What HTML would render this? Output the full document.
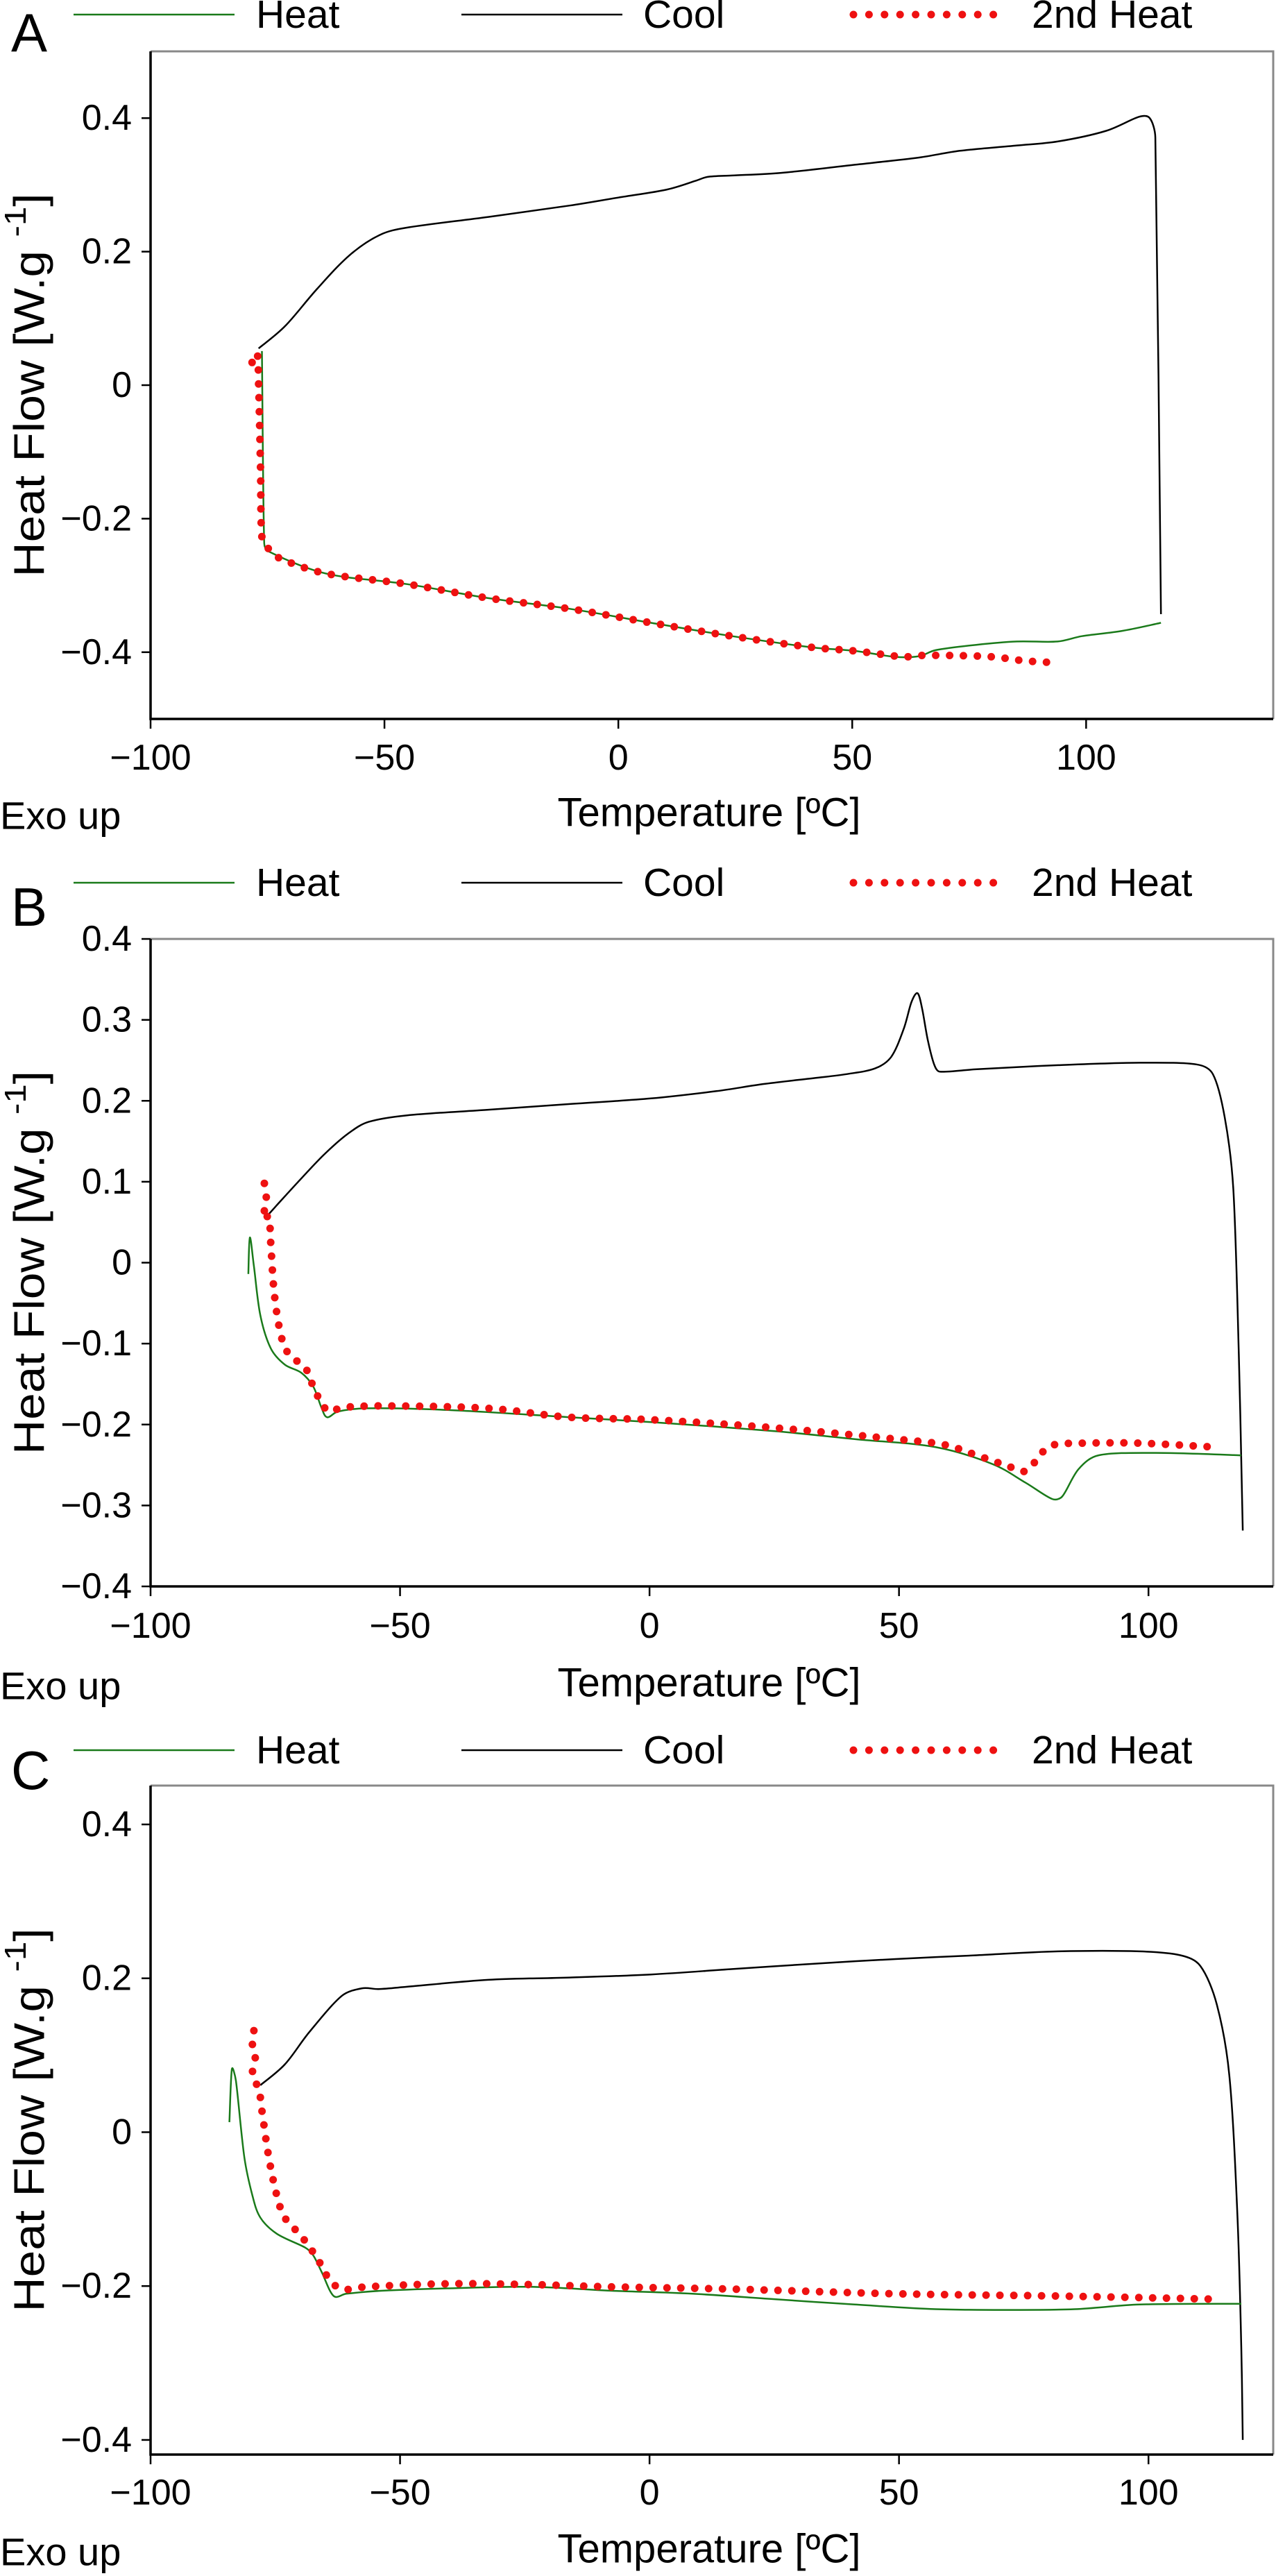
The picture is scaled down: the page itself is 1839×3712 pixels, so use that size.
<!DOCTYPE html>
<html><head><meta charset="utf-8"><style>
html,body{margin:0;padding:0;background:#fff;}
svg{display:block;}
text{font-family:"Liberation Sans",sans-serif;fill:#000;}
</style></head><body>
<svg id="fig" width="1839" height="3712" viewBox="0 0 1839 3712" xmlns="http://www.w3.org/2000/svg"></svg>
<script>
const NS="http://www.w3.org/2000/svg";
// Panel A data [temperature, heat flow]
const coolA=[[116,-0.343],[114.8,0.371],[113.6,0.4],[111.3,0.402],[104.3,0.381],[93.9,0.365],[85.2,0.359],[73,0.351],[64.3,0.341],[50.4,0.330],[34.8,0.318],[24.3,0.314],[19.1,0.312],[16.5,0.306],[10.4,0.293],[0,0.281],[-10.4,0.269],[-27.8,0.252],[-45.2,0.236],[-51,0.225],[-57.4,0.195],[-64.3,0.145],[-71.3,0.088],[-76.9,0.055]];
const heatA=[[-76.2,0.051],[-75.7,-0.237],[-74.8,-0.249],[-62.6,-0.282],[-45.2,-0.298],[-27.8,-0.319],[-10.4,-0.335],[7,-0.356],[24.3,-0.376],[41.7,-0.393],[50.4,-0.398],[59.1,-0.407],[64.3,-0.406],[67.8,-0.397],[76.5,-0.389],[85.2,-0.384],[93.9,-0.384],[99.1,-0.376],[107.8,-0.368],[116,-0.356]];
const heat2A=[[-78.3,0.034],[-77.2,0.047],[-76.9,0.002],[-76.5,-0.122],[-76.2,-0.228],[-74.8,-0.245],[-72.2,-0.26],[-62.6,-0.282],[-45.2,-0.298],[-27.8,-0.319],[-10.4,-0.335],[7,-0.356],[24.3,-0.376],[41.7,-0.393],[50.4,-0.398],[60.9,-0.407],[64.3,-0.405],[71.3,-0.405],[80,-0.407],[87,-0.413],[94.4,-0.416]];
// Panel B data
const coolB=[[118.9,-0.331],[118.1,-0.113],[117,0.091],[115.3,0.179],[112.9,0.233],[109.6,0.245],[98.2,0.247],[81.9,0.244],[65.6,0.239],[58.2,0.236],[57.1,0.244],[55.8,0.274],[54.6,0.315],[53.7,0.333],[52.5,0.322],[50.9,0.288],[48.4,0.254],[45.2,0.240],[39.5,0.233],[32.9,0.228],[23.2,0.221],[13.4,0.212],[0.3,0.203],[-16,0.196],[-32.3,0.189],[-48.6,0.182],[-56.3,0.174],[-60.3,0.160],[-65,0.135],[-69.8,0.104],[-74.7,0.071],[-76.3,0.06]];
const heatB=[[-80.4,-0.014],[-80.1,0.031],[-79.3,-0.004],[-78,-0.065],[-75.9,-0.106],[-73.1,-0.126],[-69.8,-0.136],[-67.4,-0.153],[-65.7,-0.180],[-64.6,-0.191],[-62.5,-0.184],[-56.8,-0.180],[-40.5,-0.182],[-16,-0.191],[0.3,-0.197],[24.8,-0.208],[41.1,-0.218],[57.4,-0.228],[68.8,-0.249],[75.4,-0.272],[80.7,-0.292],[82.7,-0.289],[86,-0.255],[90,-0.238],[101.5,-0.235],[118.6,-0.238]];
const heat2B=[[-77.2,0.098],[-76.8,0.077],[-77.5,0.054],[-76.3,0.057],[-75.9,0.023],[-75.2,-0.038],[-73.9,-0.089],[-72.3,-0.113],[-69,-0.13],[-67.4,-0.153],[-65.7,-0.174],[-64.1,-0.184],[-61.7,-0.179],[-53.5,-0.177],[-32.3,-0.180],[-16,-0.191],[0.3,-0.194],[24.8,-0.204],[49.3,-0.218],[59.1,-0.225],[65.6,-0.238],[72.1,-0.252],[75,-0.258],[77,-0.248],[78.6,-0.235],[81.1,-0.225],[86.8,-0.223],[98.2,-0.223],[113.7,-0.228]];
// Panel C data
const coolC=[[118.9,-0.4],[118.6,-0.281],[117.8,-0.104],[116.2,0.074],[113.7,0.166],[110.4,0.216],[106.4,0.230],[98.2,0.235],[81.9,0.235],[65.6,0.230],[49.3,0.225],[33,0.219],[16.6,0.212],[0.3,0.205],[-16,0.201],[-32.3,0.198],[-48.6,0.189],[-54.3,0.186],[-57.6,0.187],[-61.7,0.177],[-68.2,0.130],[-73.1,0.088],[-78,0.061]];
const heatC=[[-84.2,0.013],[-83.7,0.082],[-82.9,0.067],[-81.2,-0.033],[-79.6,-0.082],[-78,-0.111],[-74.7,-0.132],[-69,-0.150],[-67.4,-0.160],[-65.7,-0.182],[-63.3,-0.213],[-60.8,-0.210],[-53.5,-0.206],[-40.5,-0.203],[-24.1,-0.201],[-7.8,-0.206],[8.6,-0.210],[24.8,-0.217],[41.1,-0.224],[57.4,-0.230],[72.1,-0.231],[85.2,-0.230],[98.2,-0.224],[118.6,-0.223]];
const heat2C=[[-79.3,0.132],[-79.6,0.109],[-79,0.095],[-79.6,0.074],[-78.3,0.056],[-77.6,0.024],[-76.3,-0.033],[-74.7,-0.082],[-73.1,-0.111],[-69.8,-0.135],[-66.6,-0.164],[-64.4,-0.189],[-61.7,-0.204],[-56.8,-0.201],[-40.5,-0.197],[-24.1,-0.198],[-7.8,-0.201],[16.6,-0.204],[49.3,-0.210],[81.9,-0.213],[112.9,-0.217]];
const xTicks=[-100,-50,0,50,100];
const xTickLabels=["\u2212100","\u221250","0","50","100"];
const yTicksAC=[-0.4,-0.2,0,0.2,0.4];
const yTickLabelsAC=["\u22120.4","\u22120.2","0","0.2","0.4"];
const yTicksB=[-0.4,-0.3,-0.2,-0.1,0,0.1,0.2,0.3,0.4];
const yTickLabelsB=["\u22120.4","\u22120.3","\u22120.2","\u22120.1","0","0.1","0.2","0.3","0.4"];

const svg=document.getElementById('fig');
function el(tag,attrs,parent){const e=document.createElementNS(NS,tag);for(const k in attrs)e.setAttribute(k,attrs[k]);(parent||svg).appendChild(e);return e;}
function txt(s,attrs,parent){const t=el('text',attrs,parent);t.textContent=s;return t;}
function cap(v,maxLen){const l=Math.hypot(v[0],v[1]);if(l>maxLen&&l>0){return [v[0]*maxLen/l,v[1]*maxLen/l];}return v;}
function smooth(P){
 let d='M'+P[0][0].toFixed(1)+','+P[0][1].toFixed(1);
 const t=0.18;
 for(let i=0;i<P.length-1;i++){
  const p0=P[Math.max(0,i-1)],p1=P[i],p2=P[i+1],p3=P[Math.min(P.length-1,i+2)];
  const seg=Math.hypot(p2[0]-p1[0],p2[1]-p1[1]);
  const v1=cap([(p2[0]-p0[0])*t,(p2[1]-p0[1])*t],seg*0.35);
  const v2=cap([(p3[0]-p1[0])*t,(p3[1]-p1[1])*t],seg*0.35);
  const c1=[p1[0]+v1[0],p1[1]+v1[1]];
  const c2=[p2[0]-v2[0],p2[1]-v2[1]];
  d+=`C${c1[0].toFixed(1)},${c1[1].toFixed(1)} ${c2[0].toFixed(1)},${c2[1].toFixed(1)} ${p2[0].toFixed(1)},${p2[1].toFixed(1)}`;
 }
 return d;
}

const panels=[
 {id:'a',letter:'A',top:74,bottom:1036,xmin:-100,xmax:140,ymin:-0.5,ymax:0.5,yt:yTicksAC,yl:yTickLabelsAC,legY:21,letY:47,xlY:1092,titY:1171,cool:coolA,heat:heatA,heat2:heat2A},
 {id:'b',letter:'B',top:1353,bottom:2286,xmin:-100,xmax:125,ymin:-0.4,ymax:0.4,yt:yTicksB,yl:yTickLabelsB,legY:1272,letY:1307,xlY:2343,titY:2425,cool:coolB,heat:heatB,heat2:heat2B},
 {id:'c',letter:'C',top:2573,bottom:3537,xmin:-100,xmax:125,ymin:-0.419,ymax:0.4505,yt:yTicksAC,yl:yTickLabelsAC,legY:2522,letY:2551,xlY:3592,titY:3673,cool:coolC,heat:heatC,heat2:heat2C}
];
const L=217,R=1835;
panels.forEach(p=>{
 const g=el('g',{});
 
 
 const xs=v=>L+(v-p.xmin)/(p.xmax-p.xmin)*(R-L);
 const ys=v=>p.bottom-(v-p.ymin)/(p.ymax-p.ymin)*(p.bottom-p.top);
 const lg=el('g',{},g);
 
 
 const l1=el('line',{x1:106,x2:338,y1:p.legY,y2:p.legY,stroke:'#1a7a1a','stroke-width':2.5},lg);
 
 
 const t1=txt('Heat',{x:369,y:p.legY,'font-size':57,'dominant-baseline':'central'},lg);
 
 
 const l2=el('line',{x1:665,x2:897,y1:p.legY,y2:p.legY,stroke:'#000','stroke-width':2.5},lg);
 
 
 const t2=txt('Cool',{x:927,y:p.legY,'font-size':57,'dominant-baseline':'central'},lg);
 
 
 const l3=el('line',{x1:1230,x2:1454,y1:p.legY,y2:p.legY,stroke:'#ee1111','stroke-width':11,'stroke-linecap':'round','stroke-dasharray':'0 22.4'},lg);
 
 
 const t3=txt('2nd Heat',{x:1487,y:p.legY,'font-size':57,'dominant-baseline':'central'},lg);
 
 
 const pl=txt(p.letter,{x:16,y:p.letY,'font-size':78,'dominant-baseline':'central'},g);
 
 
 const fr=el('path',{d:`M${L} ${p.top}H${R}V${p.bottom}`,fill:'none',stroke:'#888','stroke-width':3},g);
 
 
 const ax=el('path',{d:`M${L} ${p.top}V${p.bottom}H${R}`,fill:'none',stroke:'#000','stroke-width':3.5},g);
 
 
 xTicks.forEach((v,i)=>{
  const tk=el('line',{x1:xs(v),x2:xs(v),y1:p.bottom,y2:p.bottom+14,stroke:'#000','stroke-width':2.5},g);
  
  
  const tl=txt(xTickLabels[i],{x:xs(v),y:p.xlY,'font-size':52,'text-anchor':'middle','dominant-baseline':'central'},g);
  
  
 });
 p.yt.forEach((v,i)=>{
  const tk=el('line',{x1:L-13,x2:L,y1:ys(v),y2:ys(v),stroke:'#000','stroke-width':2.5},g);
  
  
  const tl=txt(p.yl[i],{x:190,y:ys(v),'font-size':52,'text-anchor':'end','dominant-baseline':'central'},g);
  
  
 });
 const xt=txt('Temperature [\u00baC]',{x:1022,y:p.titY,'font-size':58,'text-anchor':'middle','dominant-baseline':'central'},g);
 
 
 const ex=txt('Exo up',{x:0,y:p.titY+4,'font-size':56,'dominant-baseline':'central'},g);
 
 
 const cy=(p.top+p.bottom)/2;
 const yt=el('text',{x:0,y:0,'font-size':62,'text-anchor':'middle','dominant-baseline':'central',transform:`translate(42 ${cy}) rotate(-90) scale(1.12 1)`},g);
 
 
 yt.appendChild(document.createTextNode('Heat Flow [W.g '));
 const sup=document.createElementNS(NS,'tspan');sup.setAttribute('font-size','44');sup.setAttribute('dy','-20');sup.textContent='-1';yt.appendChild(sup);
 const cl=document.createElementNS(NS,'tspan');cl.setAttribute('dy','20');cl.textContent=']';yt.appendChild(cl);
 const pp=a=>a.map(d=>[xs(d[0]),ys(d[1])]);
 const sc=el('path',{d:smooth(pp(p.cool)),fill:'none',stroke:'#000','stroke-width':2.5,'stroke-linejoin':'round'},g);
 
 
 const sh=el('path',{d:smooth(pp(p.heat)),fill:'none',stroke:'#1a7a1a','stroke-width':2.5,'stroke-linejoin':'round'},g);
 
 
 const s2=el('path',{d:smooth(pp(p.heat2)),fill:'none',stroke:'#ee1111','stroke-width':11,'stroke-linecap':'round','stroke-dasharray':'0 20'},g);
 
 
});
</script>
</body></html>
